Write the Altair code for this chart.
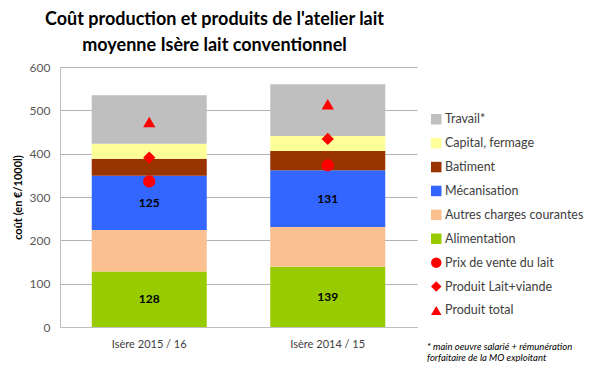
import altair as alt
import pandas as pd

periods = ["Isère 2015 / 16", "Isère 2014 / 15"]
cost_series = ["Alimentation", "Autres charges courantes", "Mécanisation", "Batiment", "Capital, fermage", "Travail*"]
alimentation = [128, 139]
autres = [96, 92]
mecanisation = [125, 131]
batiment = [39, 44]
capital = [35, 35]
travail = [112, 119]

marker_series = ["Prix de vente du lait", "Produit Lait+viande", "Produit total"]
prix_lait = [336, 373]
produit_lv = [391, 434]
produit_total = [473, 514]

labelled = ["Alimentation", "Mécanisation"]

legend_order = ["Travail*", "Capital, fermage", "Batiment", "Mécanisation",
                "Autres charges courantes", "Alimentation",
                "Prix de vente du lait", "Produit Lait+viande", "Produit total"]
legend_colors = ["#bfbfbf", "#ffff99", "#993300", "#3366ff", "#fac090", "#99cc00",
                 "#ff0000", "#ff0000", "#ff0000"]
legend_shapes = ["square"] * 6 + ["circle", "diamond", "triangle-up"]

cost_values = [alimentation, autres, mecanisation, batiment, capital, travail]
rows = []
for si, (name, vals) in enumerate(zip(cost_series, cost_values)):
    for pi, p in enumerate(periods):
        base = sum(cost_values[k][pi] for k in range(si))
        rows.append({"periode": p, "serie": name, "valeur": vals[pi], "ordre": si,
                     "y0": base, "y1": base + vals[pi], "mid": base + vals[pi] / 2,
                     "lbl": name in labelled})
bars_df = pd.DataFrame(rows)

mrows = []
for name, vals in zip(marker_series, [prix_lait, produit_lv, produit_total]):
    for pi, p in enumerate(periods):
        mrows.append({"periode": p, "serie": name, "valeur": vals[pi]})
marks_df = pd.DataFrame(mrows)

color_scale = alt.Scale(domain=legend_order, range=legend_colors)
shape_scale = alt.Scale(domain=legend_order, range=legend_shapes)

x_enc = alt.X("periode:N", sort=periods, title=None,
              scale=alt.Scale(paddingInner=0.355, paddingOuter=0.1775),
              axis=alt.Axis(labelAngle=0, labelFontSize=11, labelColor="#404040",
                            labelPadding=11, ticks=False, domainColor="#bfbfbf",
                            labelFont="Lato"))

legend = alt.Legend(title=None, orient="none", legendX=370, legendY=46,
                    labelFontSize=12.5, labelColor="#404040", labelFont="Lato",
                    symbolSize=110, rowPadding=10.9, symbolStrokeWidth=0,
                    labelOffset=2.5, padding=0, labelLimit=200)

bars = alt.Chart(bars_df).mark_bar(size=115).encode(
    x=x_enc,
    y=alt.Y("y0:Q", scale=alt.Scale(domain=[0, 600]), title="coût (en €/1000l)",
            axis=alt.Axis(values=[0, 100, 200, 300, 400, 500, 600], labelFontSize=12,
                          labelColor="#595959", labelPadding=10, ticks=False,
                          domainColor="#bfbfbf", gridColor="#b3b3b3",
                          titleFontSize=11, titleFontWeight="bold", titleColor="#000000",
                          titlePadding=6, labelFont="Lato", titleFont="Lato")),
    y2="y1:Q",
    color=alt.Color("serie:N", scale=color_scale, legend=legend),
    shape=alt.Shape("serie:N", scale=shape_scale, legend=legend),
)

labels = alt.Chart(bars_df).transform_filter("datum.lbl").mark_text(
    fontSize=12, fontWeight="bold", color="#000000", font="Lato"
).encode(
    x=alt.X("periode:N", sort=periods),
    y=alt.Y("mid:Q"),
    text=alt.Text("valeur:Q"),
)

points = alt.Chart(marks_df).mark_point(filled=True, size=150, opacity=1).encode(
    x=alt.X("periode:N", sort=periods),
    y=alt.Y("valeur:Q"),
    color=alt.Color("serie:N", scale=color_scale, legend=legend),
    shape=alt.Shape("serie:N", scale=shape_scale, legend=legend),
)

note = alt.Chart(pd.DataFrame({"t": ["* main oeuvre salarié + rémunération"]})).mark_text(
    align="left", baseline="middle", fontSize=9.5, fontStyle="italic", font="Lato",
    color="#000000", lineHeight=11
).encode(
    x=alt.value(367), y=alt.value(280),
    text=alt.value(["* main oeuvre salarié + rémunération", "forfaitaire de la MO exploitant"]),
)

chart = alt.layer(bars, labels, points, note).properties(
    width=357, height=260,
    autosize=alt.AutoSizeParams(type="none"),
    padding={"left": 52, "top": 59, "right": 168, "bottom": 35},
    title=alt.TitleParams(["Coût production et produits de l'atelier lait",
                           "moyenne Isère lait conventionnel"],
                          fontSize=18, font="Lato", fontWeight="bold", color="#000000",
                          anchor="middle", dx=-24, offset=6, lineHeight=26),
).configure_view(stroke=None).configure_axisY(domain=True).configure_axisX(grid=False)

chart.save("out.html", embed_options={"renderer": "svg", "actions": False})
